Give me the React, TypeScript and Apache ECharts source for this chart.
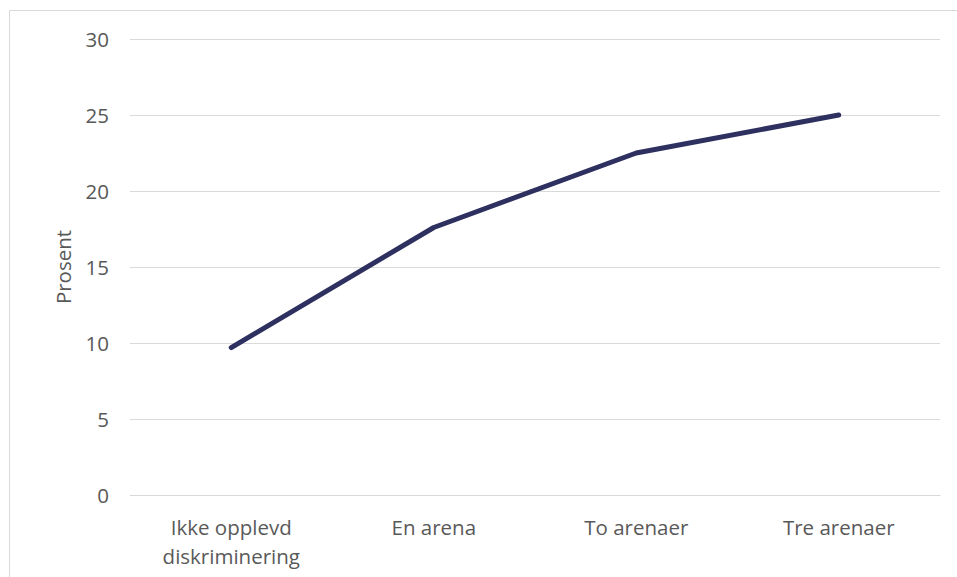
import React, { useEffect, useRef } from "react";
import * as echarts from "echarts";

const categories = ["Ikke opplevd\ndiskriminering", "En arena", "To arenaer", "Tre arenaer"];
const values = [9.7, 17.6, 22.5, 25.0];
const yTicks = { min: 0, max: 30, interval: 5 };
const yName = "Prosent";

export default function App() {
  const ref = useRef<HTMLDivElement>(null);
  useEffect(() => {
    if (!ref.current) return;
    const chart = echarts.init(ref.current, undefined, { renderer: "svg" });
    const font = "Open Sans";
    chart.setOption({
      animation: false,
      backgroundColor: "#ffffff",
      textStyle: { fontFamily: font },
      graphic: [
        {
          type: "rect",
          shape: { x: 9.5, y: 10.5, width: 1000, height: 700 },
          style: { fill: "none", stroke: "#D9D9D9", lineWidth: 1 },
          silent: true,
        },
      ],
      grid: { left: 130, right: 17, top: 39, bottom: 82 },
      xAxis: {
        type: "category",
        data: categories,
        boundaryGap: true,
        axisLine: { show: true, lineStyle: { color: "#D9D9D9", width: 1 } },
        axisTick: { show: false },
        axisLabel: {
          color: "#595959",
          fontSize: 20.5,
          fontFamily: font,
          lineHeight: 29,
          margin: 17,
          interval: 0,
        },
      },
      yAxis: {
        type: "value",
        min: yTicks.min,
        max: yTicks.max,
        interval: yTicks.interval,
        name: yName,
        nameLocation: "middle",
        nameGap: 57,
        nameTextStyle: { color: "#595959", fontSize: 20.5, fontFamily: font },
        axisLine: { show: false },
        axisTick: { show: false },
        axisLabel: { color: "#595959", fontSize: 20.5, fontFamily: font, margin: 21 },
        splitLine: { lineStyle: { color: "#D9D9D9", width: 1 } },
      },
      series: [
        {
          type: "line",
          data: values,
          symbol: "none",
          lineStyle: { color: "#2E3060", width: 5, cap: "round", join: "round" },
        },
      ],
    });
    return () => chart.dispose();
  }, []);
  return (
    <div
      ref={ref}
      style={{ position: "fixed", left: 0, top: 0, width: 957, height: 577 }}
    />
  );
}
